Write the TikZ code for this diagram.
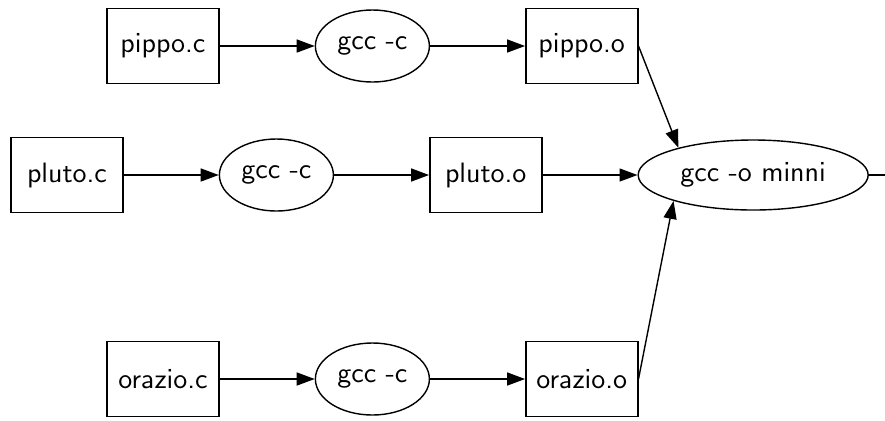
\documentclass[tikz,border=0pt]{standalone}
\usepackage{tikz}
\usetikzlibrary{arrows.meta}
\usetikzlibrary{positioning}
\usetikzlibrary{shapes.geometric}
\font\gvsans=cmss10 at 14pt

\begin{document}
\begin{tikzpicture}[
        x=0.5pt, y=-0.5pt,
        node distance=47.5pt,
        every node/.style={font=\gvsans},
        file/.style={rectangle,minimum width=56pt,minimum height=37.5pt,
                     line width=0.7pt,draw=black},
        cmd/.style={ellipse,minimum width=57pt,minimum height=36pt,
                    inner sep=0pt,line width=0.7pt,draw=black},
        edge/.style={line width=0.7pt,-{Triangle[length=9pt,width=6.5pt]}}
      ]
      \useasboundingbox (0,0) rectangle (885,420);
      % top row
      \node (pippoc) [file] at (163,46) {pippo.c};
      \node (gccpippo) [cmd, right=of pippoc] {gcc -c};
      \node (pippoo) [file, right=of gccpippo] {pippo.o};
      % middle row
      \node (plutoc) [file] at (67,175) {pluto.c};
      \node (gccpluto) [cmd, right=of plutoc] {gcc -c};
      \node (plutoo) [file, right=of gccpluto] {pluto.o};
      \node (minni) [cmd, minimum width=115pt, minimum height=35pt, right=of plutoo] {gcc -o minni};
      \coordinate (out) at (885,175);
      % bottom row
      \node (orazioc) [file] at (163,379) {orazio.c};
      \node (gccorazio) [cmd, right=of orazioc] {gcc -c};
      \node (orazioo) [file, right=of gccorazio] {orazio.o};

      \draw[edge] (pippoc) -- (gccpippo);
      \draw[edge] (gccpippo) -- (pippoo);
      \draw[edge] (plutoc) -- (gccpluto);
      \draw[edge] (gccpluto) -- (plutoo);
      \draw[edge] (plutoo) -- (minni);
      \draw[edge] (orazioc) -- (gccorazio);
      \draw[edge] (gccorazio) -- (orazioo);
      \draw[edge] (pippoo.east) -- (minni.160);
      \draw[edge] (orazioo.east) -- (minni.198);
      \draw[line width=0.7pt] (minni) -- (out);

    \end{tikzpicture}
\end{document}
